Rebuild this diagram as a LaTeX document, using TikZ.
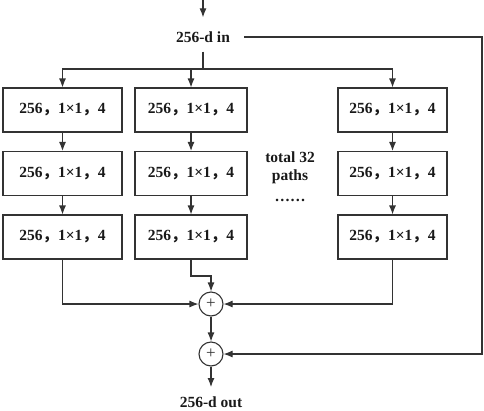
\documentclass[tikz,border=0pt]{standalone}
\usepackage{fontspec}
\setmainfont{Liberation Serif}
\newfontfamily\cjkfont{Noto Sans CJK SC}
\usetikzlibrary{arrows.meta}
\definecolor{ink}{HTML}{333333}
\newcommand{\cc}{{\cjkfont\bfseries ，}}
\tikzset{
  arr/.style={draw=ink, line width=1.1pt, -{Latex[length=9pt,width=7pt]}},
  ln/.style={draw=ink, line width=1.1pt},
  blk/.style={draw=ink, line width=1.1pt, minimum height=44pt, inner sep=0pt,
    font=\fontsize{15.5}{17}\selectfont\bfseries, text=black!90},
  lbl/.style={font=\fontsize{15.5}{18}\selectfont\bfseries, text=black!90, inner sep=3pt},
  sumc/.style={draw=ink, line width=1.1pt, circle, minimum size=24pt, inner sep=0pt,
    font=\fontsize{17}{17}\selectfont, text=ink}
}
\begin{document}
\begin{tikzpicture}[x=1pt,y=-1pt]
\useasboundingbox (0,0) rectangle (484,410);
% input
\coordinate (top) at (203,0);
\node[lbl] (in) at (203,37) {256-d in};
\coordinate (split) at (203,69);
\coordinate (rt) at (482,37);
% boxes
\node[blk, minimum width=119pt] (b11) at (62.5,110) {256\cc1×1\cc4};
\node[blk, minimum width=119pt] (b12) at (62.5,173.5) {256\cc1×1\cc4};
\node[blk, minimum width=119pt] (b13) at (62.5,237) {256\cc1×1\cc4};
\node[blk, minimum width=112pt] (b21) at (191,110) {256\cc1×1\cc4};
\node[blk, minimum width=112pt] (b22) at (191,173.5) {256\cc1×1\cc4};
\node[blk, minimum width=112pt] (b23) at (191,237) {256\cc1×1\cc4};
\node[blk, minimum width=109pt] (b31) at (392.5,110) {256\cc1×1\cc4};
\node[blk, minimum width=109pt] (b32) at (392.5,173.5) {256\cc1×1\cc4};
\node[blk, minimum width=109pt] (b33) at (392.5,237) {256\cc1×1\cc4};
\node[lbl, align=center] (tot) at (290,177) {total 32\\paths\\[3pt]……};
% sums
\node[sumc] (c1) at (211,304) {+};
\node[sumc] (c2) at (211,354) {+};
\coordinate (j) at (211,276);
\coordinate (oend) at (211,387);
\node[lbl] (out) at (211,402) {256-d out};
% connectors
\draw[arr, shorten >=11pt] (top) -- (in.north);
\draw[ln, shorten <=6pt] (in.south) -- (split);
\draw[arr] (split) -| (b11.north);
\draw[arr] (split) -| (b21.north);
\draw[arr] (split) -| (b31.north);
\draw[arr] (b11) -- (b12);
\draw[arr] (b12) -- (b13);
\draw[arr] (b21) -- (b22);
\draw[arr] (b22) -- (b23);
\draw[arr] (b31) -- (b32);
\draw[arr] (b32) -- (b33);
\draw[arr] (b13.south) |- (c1.west);
\draw[arr] (b33.south) |- (c1.east);
\draw[arr] (b23.south) |- (j) -- (c1.north);
\draw[arr] (c1) -- (c2);
\draw[arr] (c2) -- (oend);
\draw[arr] ([xshift=11pt]in.east) -- (rt) |- (c2.east);
\end{tikzpicture}
\end{document}
